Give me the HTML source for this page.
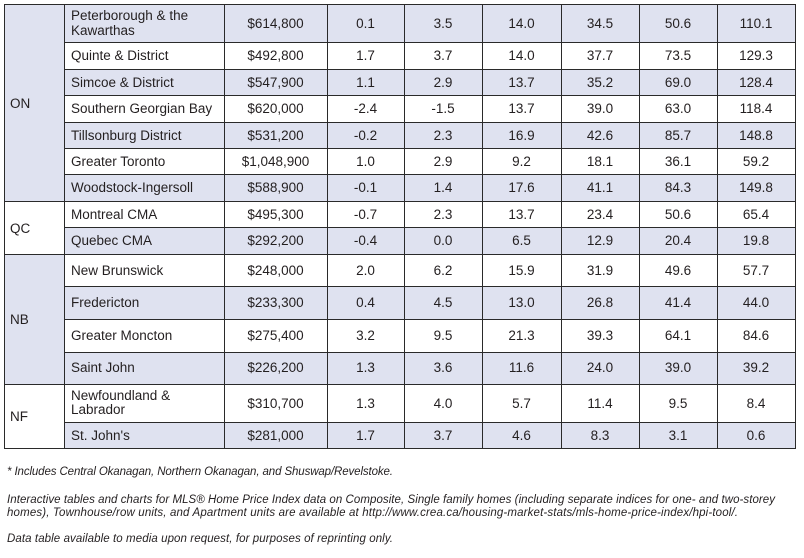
<!DOCTYPE html>
<html>
<head>
<meta charset="utf-8">
<style>
html,body{margin:0;padding:0;background:#fff;}
body{width:804px;height:558px;overflow:hidden;}
svg{display:block;}
text{font-family:"Liberation Sans",sans-serif;fill:#231f20;}
.c{font-size:13.5px;text-anchor:middle;}
.l{font-size:13.5px;}
.f{font-size:11.5px;font-style:italic;}
</style>
</head>
<body>
<svg width="804" height="558" viewBox="0 0 804 558" xmlns="http://www.w3.org/2000/svg">
<!-- shading -->
<g fill="#dfe2f0">
<rect x="4" y="4" width="60" height="197"/>
<rect x="4" y="254" width="60" height="130"/>
<rect x="64" y="4" width="731" height="38"/>
<rect x="64" y="69" width="731" height="26"/>
<rect x="64" y="122" width="731" height="26"/>
<rect x="64" y="174" width="731" height="27"/>
<rect x="64" y="227" width="731" height="27"/>
<rect x="64" y="286" width="731" height="33"/>
<rect x="64" y="352" width="731" height="32"/>
<rect x="64" y="422" width="731" height="26"/>
</g>
<!-- grid lines -->
<g stroke="#2a2a2a" stroke-width="1.2" shape-rendering="crispEdges">
<line x1="4" y1="4.5" x2="795" y2="4.5"/>
<line x1="4" y1="201.5" x2="795" y2="201.5"/>
<line x1="4" y1="254.5" x2="795" y2="254.5"/>
<line x1="4" y1="384.5" x2="795" y2="384.5"/>
<line x1="4" y1="448.5" x2="795" y2="448.5"/>
<line x1="64" y1="42.5" x2="795" y2="42.5"/>
<line x1="64" y1="69.5" x2="795" y2="69.5"/>
<line x1="64" y1="95.5" x2="795" y2="95.5"/>
<line x1="64" y1="122.5" x2="795" y2="122.5"/>
<line x1="64" y1="148.5" x2="795" y2="148.5"/>
<line x1="64" y1="174.5" x2="795" y2="174.5"/>
<line x1="64" y1="227.5" x2="795" y2="227.5"/>
<line x1="64" y1="286.5" x2="795" y2="286.5"/>
<line x1="64" y1="319.5" x2="795" y2="319.5"/>
<line x1="64" y1="352.5" x2="795" y2="352.5"/>
<line x1="64" y1="422.5" x2="795" y2="422.5"/>
<line x1="4.5" y1="4" x2="4.5" y2="449"/>
<line x1="64.5" y1="4" x2="64.5" y2="449"/>
<line x1="224.5" y1="4" x2="224.5" y2="449"/>
<line x1="327.5" y1="4" x2="327.5" y2="449"/>
<line x1="404.5" y1="4" x2="404.5" y2="449"/>
<line x1="482.5" y1="4" x2="482.5" y2="449"/>
<line x1="561.5" y1="4" x2="561.5" y2="449"/>
<line x1="639.5" y1="4" x2="639.5" y2="449"/>
<line x1="717.5" y1="4" x2="717.5" y2="449"/>
<line x1="795.5" y1="4" x2="795.5" y2="449"/>
</g>
<!-- region labels -->
<text class="l" x="10" y="108">ON</text>
<text class="l" x="10" y="233">QC</text>
<text class="l" x="10" y="324">NB</text>
<text class="l" x="10" y="421">NF</text>

<!-- market names -->
<text class="l" x="71" y="20">Peterborough &amp; the</text>
<text class="l" x="71" y="35">Kawarthas</text>
<text class="l" x="71" y="60">Quinte &amp; District</text>
<text class="l" x="71" y="87">Simcoe &amp; District</text>
<text class="l" x="71" y="113">Southern Georgian Bay</text>
<text class="l" x="71" y="140">Tillsonburg District</text>
<text class="l" x="71" y="166">Greater Toronto</text>
<text class="l" x="71" y="192">Woodstock-Ingersoll</text>
<text class="l" x="71" y="219">Montreal CMA</text>
<text class="l" x="71" y="245">Quebec CMA</text>
<text class="l" x="71" y="275">New Brunswick</text>
<text class="l" x="71" y="307">Fredericton</text>
<text class="l" x="71" y="340">Greater Moncton</text>
<text class="l" x="71" y="372">Saint John</text>
<text class="l" x="71" y="400">Newfoundland &amp;</text>
<text class="l" x="71" y="414">Labrador</text>
<text class="l" x="71" y="440">St. John's</text>

<!-- numeric columns -->
<g class="c">
<text class="c" x="275.5" y="28">$614,800</text><text class="c" x="365.5" y="28">0.1</text><text class="c" x="443" y="28">3.5</text><text class="c" x="521.5" y="28">14.0</text><text class="c" x="600" y="28">34.5</text><text class="c" x="678" y="28">50.6</text><text class="c" x="756" y="28">110.1</text>
<text class="c" x="275.5" y="60">$492,800</text><text class="c" x="365.5" y="60">1.7</text><text class="c" x="443" y="60">3.7</text><text class="c" x="521.5" y="60">14.0</text><text class="c" x="600" y="60">37.7</text><text class="c" x="678" y="60">73.5</text><text class="c" x="756" y="60">129.3</text>
<text class="c" x="275.5" y="87">$547,900</text><text class="c" x="365.5" y="87">1.1</text><text class="c" x="443" y="87">2.9</text><text class="c" x="521.5" y="87">13.7</text><text class="c" x="600" y="87">35.2</text><text class="c" x="678" y="87">69.0</text><text class="c" x="756" y="87">128.4</text>
<text class="c" x="275.5" y="113">$620,000</text><text class="c" x="365.5" y="113">-2.4</text><text class="c" x="443" y="113">-1.5</text><text class="c" x="521.5" y="113">13.7</text><text class="c" x="600" y="113">39.0</text><text class="c" x="678" y="113">63.0</text><text class="c" x="756" y="113">118.4</text>
<text class="c" x="275.5" y="140">$531,200</text><text class="c" x="365.5" y="140">-0.2</text><text class="c" x="443" y="140">2.3</text><text class="c" x="521.5" y="140">16.9</text><text class="c" x="600" y="140">42.6</text><text class="c" x="678" y="140">85.7</text><text class="c" x="756" y="140">148.8</text>
<text class="c" x="275.5" y="166">$1,048,900</text><text class="c" x="365.5" y="166">1.0</text><text class="c" x="443" y="166">2.9</text><text class="c" x="521.5" y="166">9.2</text><text class="c" x="600" y="166">18.1</text><text class="c" x="678" y="166">36.1</text><text class="c" x="756" y="166">59.2</text>
<text class="c" x="275.5" y="192">$588,900</text><text class="c" x="365.5" y="192">-0.1</text><text class="c" x="443" y="192">1.4</text><text class="c" x="521.5" y="192">17.6</text><text class="c" x="600" y="192">41.1</text><text class="c" x="678" y="192">84.3</text><text class="c" x="756" y="192">149.8</text>
<text class="c" x="275.5" y="219">$495,300</text><text class="c" x="365.5" y="219">-0.7</text><text class="c" x="443" y="219">2.3</text><text class="c" x="521.5" y="219">13.7</text><text class="c" x="600" y="219">23.4</text><text class="c" x="678" y="219">50.6</text><text class="c" x="756" y="219">65.4</text>
<text class="c" x="275.5" y="245">$292,200</text><text class="c" x="365.5" y="245">-0.4</text><text class="c" x="443" y="245">0.0</text><text class="c" x="521.5" y="245">6.5</text><text class="c" x="600" y="245">12.9</text><text class="c" x="678" y="245">20.4</text><text class="c" x="756" y="245">19.8</text>
<text class="c" x="275.5" y="275">$248,000</text><text class="c" x="365.5" y="275">2.0</text><text class="c" x="443" y="275">6.2</text><text class="c" x="521.5" y="275">15.9</text><text class="c" x="600" y="275">31.9</text><text class="c" x="678" y="275">49.6</text><text class="c" x="756" y="275">57.7</text>
<text class="c" x="275.5" y="307">$233,300</text><text class="c" x="365.5" y="307">0.4</text><text class="c" x="443" y="307">4.5</text><text class="c" x="521.5" y="307">13.0</text><text class="c" x="600" y="307">26.8</text><text class="c" x="678" y="307">41.4</text><text class="c" x="756" y="307">44.0</text>
<text class="c" x="275.5" y="340">$275,400</text><text class="c" x="365.5" y="340">3.2</text><text class="c" x="443" y="340">9.5</text><text class="c" x="521.5" y="340">21.3</text><text class="c" x="600" y="340">39.3</text><text class="c" x="678" y="340">64.1</text><text class="c" x="756" y="340">84.6</text>
<text class="c" x="275.5" y="372">$226,200</text><text class="c" x="365.5" y="372">1.3</text><text class="c" x="443" y="372">3.6</text><text class="c" x="521.5" y="372">11.6</text><text class="c" x="600" y="372">24.0</text><text class="c" x="678" y="372">39.0</text><text class="c" x="756" y="372">39.2</text>
<text class="c" x="275.5" y="408">$310,700</text><text class="c" x="365.5" y="408">1.3</text><text class="c" x="443" y="408">4.0</text><text class="c" x="521.5" y="408">5.7</text><text class="c" x="600" y="408">11.4</text><text class="c" x="678" y="408">9.5</text><text class="c" x="756" y="408">8.4</text>
<text class="c" x="275.5" y="440">$281,000</text><text class="c" x="365.5" y="440">1.7</text><text class="c" x="443" y="440">3.7</text><text class="c" x="521.5" y="440">4.6</text><text class="c" x="600" y="440">8.3</text><text class="c" x="678" y="440">3.1</text><text class="c" x="756" y="440">0.6</text>
</g>

<!-- footnotes -->
<text class="f" x="7" y="475" textLength="386" lengthAdjust="spacing">* Includes Central Okanagan, Northern Okanagan, and Shuswap/Revelstoke.</text>
<text class="f" x="7" y="503" textLength="768" lengthAdjust="spacing">Interactive tables and charts for MLS® Home Price Index data on Composite, Single family homes (including separate indices for one- and two-storey</text>
<text class="f" x="7" y="516" textLength="731" lengthAdjust="spacing">homes), Townhouse/row units, and Apartment units are available at http://www.crea.ca/housing-market-stats/mls-home-price-index/hpi-tool/.</text>
<text class="f" x="7" y="542" textLength="386" lengthAdjust="spacing">Data table available to media upon request, for purposes of reprinting only.</text>
</svg>
</body>
</html>
